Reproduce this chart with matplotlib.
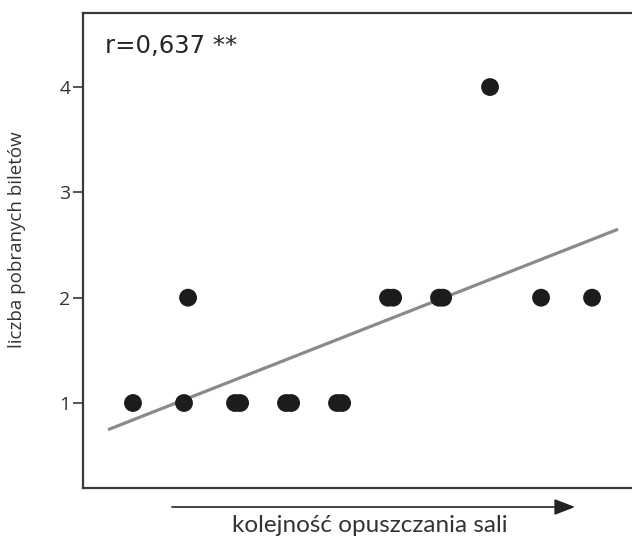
import numpy as np
import matplotlib
matplotlib.use("Agg")
import matplotlib.pyplot as plt

# Order of leaving the room (rank) and number of tickets taken
order = [1, 2, 2.08, 3, 3.1, 4, 4.1, 5, 5.1, 6, 6.1, 7, 7.08, 8, 9, 10]
tickets = [1, 1, 2, 1, 1, 1, 1, 1, 1, 2, 2, 2, 2, 4, 2, 2]
y_ticks = [1, 2, 3, 4]
r_label = "r=0,637 **"
x_label = "kolejność opuszczania sali"
y_label = "liczba pobranych biletów"

W, H = 632, 536
fig = plt.figure(figsize=(W / 100, H / 100), dpi=100)
left, right, top, bottom = 83, 640, 13, 488
ax = fig.add_axes([left / W, 1 - bottom / H, (right - left) / W, (bottom - top) / H])

ax.set_xlim(0.02, 10.94)
ax.set_ylim(0.193, 4.703)

# linear fit
x = np.array(order)
y = np.array(tickets)
slope, intercept = np.polyfit(np.round(x), y, 1)
xf = np.array([0.51, 10.51])
ax.plot(xf, slope * xf + intercept, color="#8a8a8a", lw=2.3, solid_capstyle="butt", zorder=2)

ax.scatter(x, y, s=165, color="#1c1c1c", edgecolors="none", zorder=3)

for side in ["left", "bottom", "top"]:
    ax.spines[side].set_color("#3a3a3a")
    ax.spines[side].set_linewidth(1.6)
ax.spines["right"].set_visible(False)

ax.set_xticks([])
ax.set_yticks(y_ticks)
ax.set_yticklabels([str(t) for t in y_ticks], fontfamily="Open Sans", fontsize=14, color="#333333")
ax.tick_params(axis="y", length=7, width=1.2, color="#3a3a3a", pad=2)

ax.text(0.04, 0.93, r_label, transform=ax.transAxes, fontsize=17.5, family="DejaVu Sans",
        color="#262626", va="center", ha="left")

fig.text(17 / W, 1 - 240 / H, y_label, rotation=90, ha="center", va="center",
         fontfamily="Open Sans", fontsize=13.5, color="#333333")

# arrow under the axis showing the direction of the order
fig.add_artist(matplotlib.patches.FancyArrowPatch(
    (172 / W, 1 - 507 / H), (575 / W, 1 - 507 / H), transform=fig.transFigure,
    arrowstyle="-|>,head_length=0.9,head_width=0.35", mutation_scale=14,
    color="#222222", lw=1.2, shrinkA=0, shrinkB=0))

fig.text(370 / W, 1 - 532 / H, x_label, ha="center", va="baseline",
         fontfamily="Lato", fontsize=17.5, color="#333333")

fig.savefig("out.png", dpi=100)
